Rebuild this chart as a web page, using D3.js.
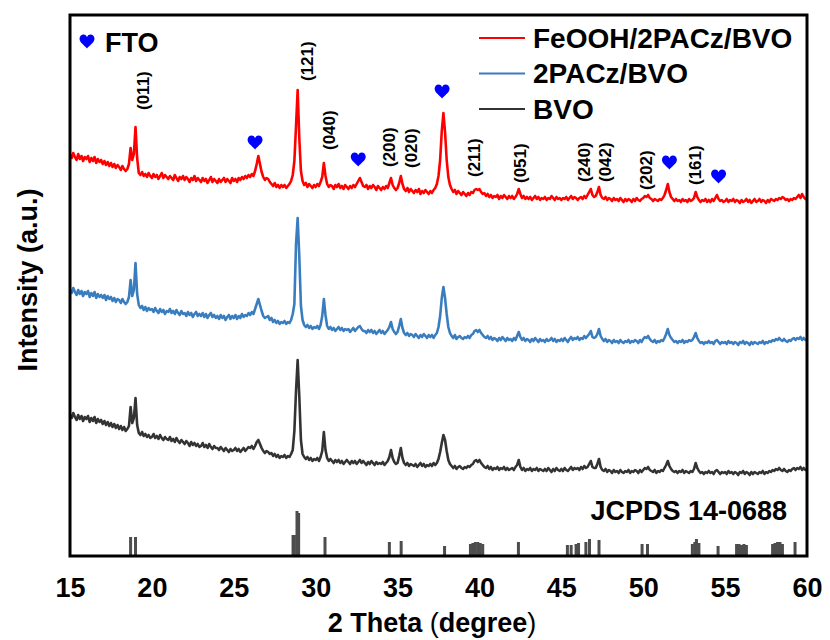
<!DOCTYPE html>
<html>
<head>
<meta charset="utf-8">
<script src="https://cdn.jsdelivr.net/npm/d3@7"></script>
<style>
    body { margin: 0; background: #fff; }
    text { font-family: "Liberation Sans", Arial, sans-serif; }
</style>
</head>
<body>
<svg id="xrd-svg" width="830" height="640"></svg>
<script>
// scan runs 15-60 deg in 0.1 deg steps, intensities are stacked a.u.
const scanStart = 15;
const scanStep = 0.1;

const feoohBvo = [
    401, 398, 403, 399, 396, 402, 397, 400, 395, 399, // 15
    397, 400, 394, 398, 395, 399, 393, 397, 394, 396, // 16
    392, 395, 391, 394, 390, 393, 389, 392, 388, 391, // 17
    389, 386, 390, 387, 385, 387, 392, 408, 396, 402, // 18
    429, 398, 383, 381, 384, 380, 382, 379, 383, 380, // 19
    378, 382, 379, 381, 377, 380, 383, 378, 381, 379, // 20
    377, 380, 378, 376, 381, 378, 375, 379, 377, 380, // 21
    376, 379, 377, 374, 378, 376, 380, 375, 378, 376, // 22
    374, 378, 375, 377, 373, 376, 379, 374, 377, 375, // 23
    373, 377, 374, 376, 378, 374, 377, 375, 373, 378, // 24
    375, 377, 374, 378, 376, 379, 377, 380, 378, 381, // 25
    379, 382, 380, 385, 392, 400, 392, 384, 379, 376, // 26
    378, 377, 374, 372, 370, 373, 369, 371, 368, 371, // 27
    369, 371, 368, 370, 372, 375, 381, 395, 430, 466, // 28
    418, 385, 375, 371, 373, 369, 372, 370, 368, 371, // 29
    369, 372, 370, 374, 379, 393, 380, 372, 369, 371, // 30
    370, 367, 371, 369, 372, 368, 370, 367, 371, 369, // 31
    367, 370, 368, 371, 369, 372, 375, 378, 374, 370, // 32
    369, 371, 367, 370, 368, 371, 369, 366, 370, 368, // 33
    366, 369, 367, 370, 368, 373, 378, 371, 368, 366, // 34
    368, 373, 380, 372, 367, 365, 368, 364, 367, 365, // 35
    363, 366, 364, 367, 362, 365, 363, 366, 364, 362, // 36
    365, 363, 366, 368, 372, 380, 396, 425, 443, 424, // 37
    396, 379, 371, 367, 364, 366, 362, 365, 363, 361, // 38
    364, 362, 360, 363, 361, 364, 363, 366, 367, 366, // 39
    367, 364, 362, 363, 360, 362, 359, 361, 358, 360, // 40
    359, 361, 357, 360, 358, 361, 359, 357, 360, 358, // 41
    360, 357, 359, 362, 367, 362, 358, 360, 357, 359, // 42
    357, 359, 356, 358, 360, 357, 359, 356, 358, 357, // 43
    359, 356, 358, 357, 360, 358, 356, 359, 357, 358, // 44
    356, 358, 357, 359, 356, 358, 360, 357, 359, 358, // 45
    356, 358, 359, 357, 360, 358, 361, 364, 367, 361, // 46
    359, 360, 364, 369, 361, 358, 357, 359, 356, 358, // 47
    357, 355, 358, 356, 357, 355, 358, 356, 354, 357, // 48
    355, 357, 356, 354, 357, 355, 358, 356, 355, 357, // 49
    358, 360, 359, 361, 358, 357, 355, 357, 356, 355, // 50
    357, 356, 358, 361, 366, 372, 364, 359, 357, 355, // 51
    357, 355, 356, 354, 357, 355, 356, 354, 357, 355, // 52
    356, 358, 364, 359, 356, 354, 356, 355, 357, 354, // 53
    356, 354, 357, 355, 358, 361, 357, 355, 356, 354, // 54
    355, 357, 354, 356, 355, 357, 354, 356, 355, 353, // 55
    356, 354, 355, 357, 354, 356, 353, 355, 357, 354, // 56
    355, 357, 354, 356, 355, 353, 356, 354, 357, 356, // 57
    355, 357, 356, 358, 357, 359, 358, 356, 357, 355, // 58
    357, 356, 358, 357, 359, 361, 358, 362, 359, 357, // 59
    356,
];

const pacBvo = [
    266, 263, 268, 264, 261, 266, 262, 265, 260, 264, // 15
    262, 265, 259, 263, 260, 264, 258, 262, 259, 261, // 16
    258, 261, 256, 260, 257, 259, 255, 258, 254, 257, // 17
    256, 253, 257, 254, 252, 254, 259, 276, 260, 266, // 18
    293, 262, 251, 248, 250, 246, 249, 245, 248, 246, // 19
    247, 244, 248, 245, 243, 247, 244, 246, 242, 245, // 20
    244, 247, 243, 245, 242, 246, 243, 241, 245, 242, // 21
    243, 240, 244, 241, 243, 239, 242, 244, 240, 242, // 22
    240, 243, 239, 242, 238, 241, 243, 239, 241, 238, // 23
    240, 237, 241, 238, 240, 236, 239, 241, 237, 240, // 24
    238, 241, 237, 240, 238, 242, 239, 241, 240, 243, // 25
    241, 244, 242, 247, 252, 257, 251, 245, 240, 238, // 26
    239, 240, 236, 238, 234, 236, 233, 235, 232, 234, // 27
    233, 235, 232, 234, 233, 236, 242, 252, 312, 338, // 28
    300, 250, 236, 231, 229, 231, 228, 230, 227, 229, // 29
    228, 230, 227, 231, 240, 257, 241, 230, 227, 229, // 30
    226, 228, 225, 227, 229, 226, 228, 225, 227, 226, // 31
    227, 224, 226, 228, 225, 227, 229, 230, 227, 225, // 32
    225, 223, 226, 224, 226, 223, 225, 222, 224, 226, // 33
    223, 225, 222, 224, 226, 229, 234, 227, 224, 222, // 34
    224, 230, 237, 228, 223, 221, 223, 220, 222, 221, // 35
    219, 222, 220, 218, 221, 219, 222, 220, 218, 221, // 36
    219, 221, 218, 221, 223, 229, 240, 258, 269, 258, // 37
    242, 229, 223, 220, 218, 221, 217, 219, 220, 218, // 38
    217, 219, 218, 220, 218, 221, 222, 225, 226, 224, // 39
    226, 223, 221, 219, 218, 220, 217, 219, 216, 218, // 40
    217, 215, 218, 216, 219, 217, 215, 218, 216, 217, // 41
    215, 218, 216, 220, 224, 219, 216, 218, 215, 217, // 42
    216, 214, 217, 215, 218, 216, 214, 217, 215, 216, // 43
    214, 217, 215, 216, 218, 215, 217, 214, 216, 215, // 44
    217, 215, 218, 216, 214, 217, 219, 216, 218, 217, // 45
    219, 216, 218, 217, 220, 218, 220, 222, 225, 219, // 46
    218, 219, 222, 227, 220, 217, 215, 217, 214, 216, // 47
    215, 213, 216, 214, 215, 213, 216, 214, 213, 215, // 48
    214, 216, 213, 215, 214, 216, 215, 213, 216, 214, // 49
    217, 219, 218, 220, 217, 215, 214, 216, 213, 215, // 50
    214, 216, 215, 218, 222, 227, 221, 218, 216, 214, // 51
    215, 213, 215, 214, 216, 213, 215, 214, 216, 215, // 52
    216, 219, 223, 218, 215, 213, 214, 212, 214, 213, // 53
    215, 213, 214, 212, 215, 216, 214, 212, 214, 213, // 54
    214, 212, 215, 213, 214, 212, 214, 213, 211, 214, // 55
    213, 215, 212, 214, 213, 211, 214, 212, 214, 213, // 56
    212, 214, 213, 215, 212, 214, 213, 215, 214, 216, // 57
    215, 217, 216, 218, 216, 215, 217, 215, 214, 216, // 58
    215, 217, 218, 216, 218, 217, 219, 216, 218, 216, // 59
    216,
];

const bvo = [
    141, 138, 143, 139, 136, 141, 137, 140, 135, 139, // 15
    137, 140, 134, 138, 135, 139, 133, 137, 134, 136, // 16
    132, 135, 131, 134, 130, 133, 129, 132, 128, 131, // 17
    127, 130, 126, 129, 125, 127, 130, 149, 133, 138, // 18
    158, 131, 123, 121, 124, 120, 122, 119, 121, 118, // 19
    119, 122, 118, 120, 117, 121, 118, 116, 119, 117, // 20
    116, 119, 115, 117, 114, 118, 115, 113, 116, 114, // 21
    112, 115, 113, 110, 114, 111, 113, 110, 112, 109, // 22
    110, 113, 109, 111, 108, 112, 109, 107, 110, 108, // 23
    108, 106, 109, 107, 105, 108, 106, 104, 107, 105, // 24
    106, 108, 105, 107, 104, 106, 108, 105, 107, 109, // 25
    108, 110, 107, 110, 114, 116, 112, 108, 105, 103, // 26
    105, 104, 102, 103, 100, 102, 99, 101, 98, 100, // 27
    99, 101, 98, 100, 99, 102, 106, 125, 165, 196, // 28
    160, 116, 102, 99, 97, 99, 96, 98, 95, 97, // 29
    96, 98, 95, 99, 105, 124, 106, 98, 95, 97, // 30
    95, 93, 96, 94, 96, 93, 95, 92, 94, 96, // 31
    94, 92, 95, 93, 95, 92, 94, 96, 93, 95, // 32
    93, 91, 94, 92, 95, 93, 91, 94, 92, 93, // 33
    92, 94, 91, 93, 95, 99, 106, 98, 94, 92, // 34
    93, 100, 108, 98, 93, 91, 93, 90, 92, 91, // 35
    90, 92, 89, 91, 93, 90, 92, 89, 91, 90, // 36
    92, 90, 93, 91, 93, 97, 104, 113, 121, 116, // 37
    105, 96, 92, 90, 88, 90, 87, 89, 90, 88, // 38
    87, 89, 88, 90, 89, 91, 92, 95, 96, 94, // 39
    96, 93, 91, 89, 88, 90, 87, 89, 86, 88, // 40
    87, 89, 86, 88, 87, 89, 86, 88, 86, 87, // 41
    88, 86, 89, 91, 96, 89, 86, 88, 85, 87, // 42
    86, 88, 85, 87, 86, 88, 85, 87, 86, 85, // 43
    87, 85, 88, 86, 84, 87, 85, 88, 86, 85, // 44
    87, 85, 88, 86, 85, 87, 89, 86, 88, 87, // 45
    88, 86, 89, 87, 90, 88, 89, 92, 95, 89, // 46
    88, 88, 92, 97, 89, 86, 85, 87, 84, 86, // 47
    85, 83, 86, 84, 85, 83, 86, 84, 83, 85, // 48
    84, 86, 83, 85, 84, 86, 85, 83, 86, 84, // 49
    86, 88, 87, 89, 86, 85, 84, 86, 83, 85, // 50
    84, 86, 85, 88, 91, 95, 90, 87, 85, 84, // 51
    85, 83, 85, 84, 86, 83, 85, 84, 83, 85, // 52
    84, 87, 93, 88, 85, 83, 84, 82, 84, 83, // 53
    85, 83, 84, 82, 85, 86, 84, 82, 84, 83, // 54
    84, 82, 85, 83, 84, 82, 84, 83, 81, 84, // 55
    83, 85, 82, 84, 83, 81, 84, 82, 84, 83, // 56
    82, 84, 83, 85, 82, 84, 83, 85, 84, 86, // 57
    85, 87, 86, 88, 86, 85, 87, 85, 84, 86, // 58
    85, 87, 88, 86, 88, 87, 89, 86, 88, 86, // 59
    86,
];

// JCPDS 14-0688 reference lines
const jcpdsTheta = [18.7, 19.0, 28.62, 28.7, 28.86, 28.96, 30.57, 34.5, 35.22, 37.87,
    39.45, 39.6, 39.75, 39.9, 40.05, 40.2, 42.38, 45.37, 45.6, 45.9, 46.05, 46.5, 46.72,
    47.3, 49.93, 50.26, 53.0, 53.15, 53.25, 53.4, 54.57, 55.7, 55.85, 56.0, 56.15, 56.3,
    57.9, 58.05, 58.2, 58.35, 58.5, 59.27];
const jcpdsHeight = [19, 19, 21, 21, 45, 43, 19, 14, 15, 10,
    12, 13, 14, 14, 13, 12, 14, 11, 11, 12, 13, 14, 17,
    16, 12, 12, 12, 14, 17, 13, 10, 12, 12, 11, 12, 11,
    12, 13, 14, 14, 12, 14];

const hklNames = ["(011)", "(121)", "(040)", "(200)", "(020)", "(211)", "(051)", "(240)", "(042)", "(202)", "(161)"];
const hklTheta = [19.5, 29.5, 30.85, 34.5, 35.85, 39.7, 42.5, 46.4, 47.7, 50.2, 53.2];
const hklLevel = [446, 475, 406, 389, 388, 379, 373, 374, 374, 366, 371];

const ftoTheta = [26.3, 32.6, 37.72, 51.6, 54.6];
const ftoLevel = [413, 396, 464, 393, 379];

const seriesNames = ["FeOOH/2PACz/BVO", "2PACz/BVO", "BVO"];
const seriesColors = ["#ff0000", "#3a7dbf", "#333333"];
const xTicks = [15, 20, 25, 30, 35, 40, 45, 50, 55, 60];

const svg = d3.select("#xrd-svg");
const x = d3.scaleLinear().domain([15, 60]).range([70, 807]);
const y = d3.scaleLinear().domain([0, 541]).range([556, 15]);

const heartPath = "M0,6.5 C-2.5,3.5 -7.5,0.5 -7.5,-3.2 C-7.5,-6.2 -5.3,-7.6 -3.6,-7.6 " +
    "C-1.6,-7.6 -0.4,-6.3 0,-4.8 C0.4,-6.3 1.6,-7.6 3.6,-7.6 C5.3,-7.6 7.5,-6.2 7.5,-3.2 " +
    "C7.5,0.5 2.5,3.5 0,6.5 Z";

// traces
const line = d3.line()
    .x((d, i) => x(scanStart + i * scanStep))
    .y((d) => y(d));

svg.append("g")
    .attr("id", "traces")
    .selectAll("path")
    .data([feoohBvo, pacBvo, bvo])
    .join("path")
    .attr("d", (d) => line(d))
    .attr("fill", "none")
    .attr("stroke", (d, i) => seriesColors[i])
    .attr("stroke-width", 2.6)
    .attr("stroke-linejoin", "round");

// reference sticks
svg.append("g")
    .attr("id", "jcpds")
    .selectAll("rect")
    .data(jcpdsTheta)
    .join("rect")
    .attr("x", (d) => x(d) - 1.5)
    .attr("y", (d, i) => y(jcpdsHeight[i]))
    .attr("width", 3)
    .attr("height", (d, i) => y(0) - y(jcpdsHeight[i]))
    .attr("fill", "#4d4d4d");

svg.append("text")
    .attr("x", 787)
    .attr("y", 520)
    .attr("text-anchor", "end")
    .attr("font-size", 27)
    .attr("font-weight", "bold")
    .text("JCPDS 14-0688");

// hkl labels
svg.append("g")
    .attr("id", "hkl")
    .selectAll("text")
    .data(hklNames)
    .join("text")
    .attr("transform", (d, i) => `translate(${x(hklTheta[i])},${y(hklLevel[i])}) rotate(-90)`)
    .attr("dominant-baseline", "central")
    .attr("font-size", 17)
    .attr("font-weight", "bold")
    .text((d) => d);

// FTO hearts
svg.append("g")
    .attr("id", "fto")
    .selectAll("path")
    .data(ftoTheta)
    .join("path")
    .attr("transform", (d, i) => `translate(${x(d)},${y(ftoLevel[i])})`)
    .attr("d", heartPath)
    .attr("fill", "#0000ff");

svg.append("path")
    .attr("transform", "translate(87,42)")
    .attr("d", heartPath)
    .attr("fill", "#0000ff");
svg.append("text")
    .attr("x", 105)
    .attr("y", 52)
    .attr("font-size", 27)
    .attr("font-weight", "bold")
    .text("FTO");

// legend
const legend = svg.append("g")
    .attr("id", "legend")
    .selectAll("g")
    .data(seriesNames)
    .join("g")
    .attr("transform", (d, i) => `translate(479,${38 + i * 35.5})`);
legend.append("line")
    .attr("x1", 0)
    .attr("x2", 46)
    .attr("stroke", (d, i) => seriesColors[i])
    .attr("stroke-width", 2.2);
legend.append("text")
    .attr("x", 54)
    .attr("y", 9.5)
    .attr("font-size", 28)
    .attr("font-weight", "bold")
    .text((d) => d);

// frame and axes
svg.append("rect")
    .attr("x", x(15))
    .attr("y", y(541))
    .attr("width", x(60) - x(15))
    .attr("height", y(0) - y(541))
    .attr("fill", "none")
    .attr("stroke", "#000")
    .attr("stroke-width", 3);

const xAxis = svg.append("g")
    .attr("transform", `translate(0,${y(0)})`)
    .call(d3.axisBottom(x).tickValues(xTicks).tickSize(0).tickPadding(22));
xAxis.select(".domain").remove();
xAxis.selectAll("text")
    .attr("font-family", "Liberation Sans, Arial, sans-serif")
    .attr("font-size", 27)
    .attr("font-weight", "bold")
    .attr("fill", "#000");

const xTitle = svg.append("text")
    .attr("x", 432)
    .attr("y", 632)
    .attr("text-anchor", "middle")
    .attr("font-size", 27)
    .attr("font-weight", "bold");
xTitle.append("tspan").text("2 Theta ");
xTitle.append("tspan").attr("font-weight", "normal").text("(");
xTitle.append("tspan").text("degree");
xTitle.append("tspan").attr("font-weight", "normal").text(")");

svg.append("text")
    .attr("transform", "translate(37,280) rotate(-90)")
    .attr("text-anchor", "middle")
    .attr("font-size", 27)
    .attr("font-weight", "bold")
    .text("Intensity (a.u.)");
</script>
</body>
</html>
